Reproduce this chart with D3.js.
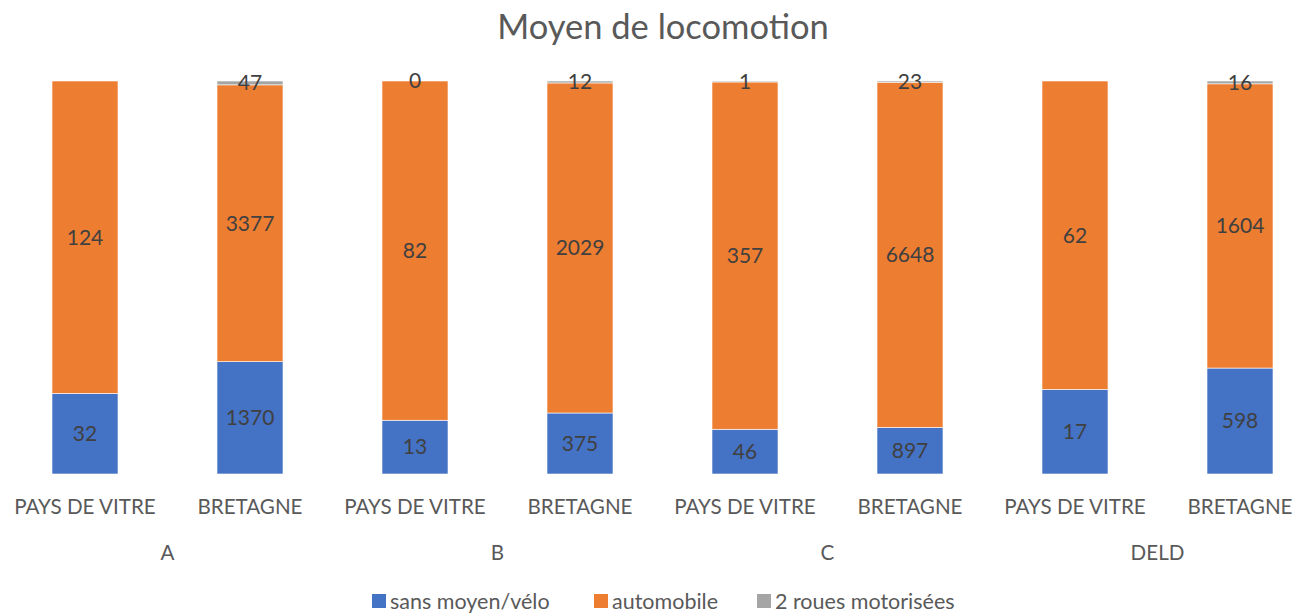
<!DOCTYPE html>
<html lang="fr">
<head>
  <meta charset="UTF-8">
  <title>Moyen de locomotion</title>
  <script src="https://d3js.org/d3.v7.min.js"></script>
  <style>
    body { margin: 0; background: #fff; }
    svg text { font-family: "Lato", "Open Sans", sans-serif; fill: #595959; }
    .lbl { fill: #404040; font-size: 21px; }
  </style>
</head>
<body>
  <div id="chart"></div>

  <script>
    // données
    const groupes = ["A", "B", "C", "DELD"];
    const territoires = ["PAYS DE VITRE", "BRETAGNE"];
    const series = ["sans moyen/vélo", "automobile", "2 roues motorisées"];
    const couleurs = ["#4472C4", "#ED7D31", "#A5A5A5"];

    // une valeur par barre (groupe x territoire), null = pas de donnée
    const sansMoyen = [32, 1370, 13, 375, 46, 897, 17, 598];
    const automobile = [124, 3377, 82, 2029, 357, 6648, 62, 1604];
    const deuxRoues = [null, 47, 0, 12, 1, 23, null, 16];

    const width = 1294, height = 615;

    const barres = [];
    groupes.forEach((g, i) => {
      territoires.forEach((t, j) => {
        const k = i * 2 + j;
        barres.push({ id: k, groupe: g, territoire: t, valeurs: [sansMoyen[k], automobile[k], deuxRoues[k]] });
      });
    });

    const svg = d3.select("#chart").append("svg")
      .attr("width", width)
      .attr("height", height);

    svg.append("text")
      .attr("x", 663).attr("y", 39)
      .attr("text-anchor", "middle")
      .style("font-size", "34.5px")
      .text("Moyen de locomotion");

    const x = d3.scaleBand()
      .domain(barres.map(d => d.id))
      .range([2.5, 1322.5])
      .paddingInner(0.6)
      .paddingOuter(0.3);

    const y = d3.scaleLinear().domain([0, 1]).range([474, 81]);

    // empilement 100 %
    const pile = barres.map(d => {
      const total = d3.sum(d.valeurs, v => v || 0);
      let cumul = 0;
      return d.valeurs.map((v, s) => {
        const y0 = cumul / total;
        cumul += v || 0;
        return { barre: d, serie: s, valeur: v, y0: y0, y1: cumul / total };
      });
    });

    const g = svg.append("g");
    const segs = g.selectAll("g.barre")
      .data(pile)
      .enter().append("g")
      .attr("class", "barre");

    segs.selectAll("rect")
      .data(d => d)
      .enter().append("rect")
      .attr("x", d => x(d.barre.id))
      .attr("width", x.bandwidth())
      .attr("y", d => y(d.y1))
      .attr("height", d => y(d.y0) - y(d.y1))
      .attr("fill", d => couleurs[d.serie])
      .attr("stroke", "#fff")
      .attr("stroke-width", 0.6);

    segs.selectAll("text")
      .data(d => d.filter(s => s.valeur !== null))
      .enter().append("text")
      .attr("class", "lbl")
      .attr("x", d => x(d.barre.id) + x.bandwidth() / 2)
      .attr("y", d => (y(d.y0) + y(d.y1)) / 2)
      .attr("dy", "0.35em")
      .attr("text-anchor", "middle")
      .text(d => d.valeur);

    // axe : territoires puis groupes
    g.selectAll("text.terr")
      .data(barres)
      .enter().append("text")
      .attr("class", "terr")
      .attr("x", d => x(d.id) + x.bandwidth() / 2)
      .attr("y", 514)
      .attr("text-anchor", "middle")
      .style("font-size", "20.6px")
      .text(d => d.territoire);

    g.selectAll("text.grp")
      .data(groupes)
      .enter().append("text")
      .attr("class", "grp")
      .attr("x", (d, i) => (x(i * 2) + x(i * 2 + 1) + x.bandwidth()) / 2)
      .attr("y", 560)
      .attr("text-anchor", "middle")
      .style("font-size", "20.6px")
      .text(d => d);

    // légende
    const legende = svg.append("g").attr("transform", "translate(0,601)");
    const posLeg = [372, 594, 757];
    series.forEach((s, i) => {
      const item = legende.append("g").attr("transform", `translate(${posLeg[i]},0)`);
      item.append("rect").attr("x", 0).attr("y", -7).attr("width", 14).attr("height", 14).attr("fill", couleurs[i]);
      item.append("text").attr("x", 18).attr("dy", "0.35em").style("font-size", "21.5px").text(s);
    });
  </script>
</body>
</html>
